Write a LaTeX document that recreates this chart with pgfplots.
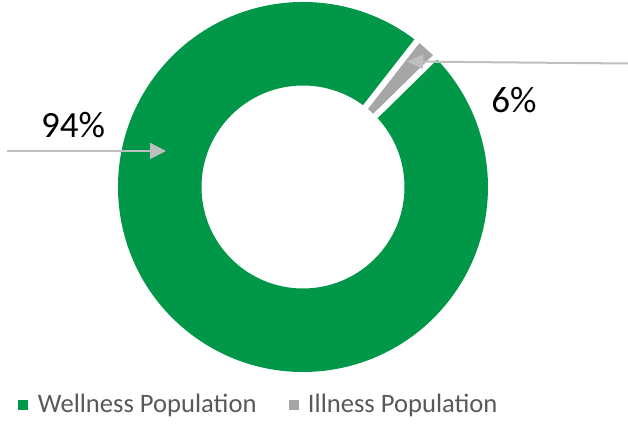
\documentclass[border=0pt]{standalone}
\usepackage{pgfplots}
\pgfplotsset{compat=1.18}
\usepackage{fontspec}
\setmainfont{Carlito}
\usetikzlibrary{arrows.meta}
\definecolor{wgreen}{RGB}{0,152,72}
\definecolor{igray}{RGB}{166,166,166}
\definecolor{agray}{RGB}{191,191,191}
\definecolor{ltext}{RGB}{89,89,89}

\begin{document}
\begin{tikzpicture}
% slice sizes as drawn (percent of the ring)
\def\wellness{97.9}
\def\illness{2.1}
\def\startangle{52}
\pgfmathsetmacro\wend{\startangle+3.6*\wellness}
\pgfmathsetmacro\iend{\wend+3.6*\illness}
\def\Ro{92.5pt}
\def\Ri{50.75pt}
\begin{axis}[
    name=ax,
    scale only axis,
    width=314pt, height=216pt,
    xmin=0, xmax=628, ymin=0, ymax=432,
    hide axis, clip=false,
    legend columns=2,
    legend style={draw=none, fill=none, at={(axis cs:18,27)}, anchor=west,
        inner sep=0pt, text=ltext,
        font=\fontsize{13.3pt}{16pt}\selectfont,
        /tikz/every even column/.append style={column sep=14pt}},
]
\addlegendimage{legend image code/.code={\fill[wgreen] (0pt,-2.25pt) rectangle (4.5pt,2.25pt); \path[draw=none, fill=none] (0pt,0pt) -- (7.5pt,0pt);}}
\addlegendentry{Wellness Population}
\addlegendimage{legend image code/.code={\fill[igray] (0pt,-2.25pt) rectangle (4.5pt,2.25pt); \path[draw=none, fill=none] (0pt,0pt) -- (7.5pt,0pt);}}
\addlegendentry{Illness Population}

% ring
\fill[wgreen] (axis cs:303,245) ++(\startangle:\Ro)
    arc[start angle=\startangle, end angle=\wend, radius=\Ro]
    -- ([shift={(\wend:\Ri)}]axis cs:303,245)
    arc[start angle=\wend, end angle=\startangle, radius=\Ri] -- cycle;
\fill[igray] (axis cs:303,245) ++(\wend:\Ro)
    arc[start angle=\wend, end angle=\iend, radius=\Ro]
    -- ([shift={(\iend:\Ri)}]axis cs:303,245)
    arc[start angle=\iend, end angle=\wend, radius=\Ri] -- cycle;
% white gaps between slices
\draw[white, line width=3pt] ([shift={(\startangle:48pt)}]axis cs:303,245) -- ([shift={(\startangle:95pt)}]axis cs:303,245);
\draw[white, line width=3pt] ([shift={(\wend:48pt)}]axis cs:303,245) -- ([shift={(\wend:95pt)}]axis cs:303,245);

% call-outs
\draw[agray, line width=1pt, -{Triangle[length=8pt, width=8pt]}] (axis cs:7,281) -- (axis cs:166,281);
\draw[agray, line width=1pt, -{Triangle[length=8pt, width=7pt]}] (axis cs:628,368.5) -- (axis cs:407,370.5);
\node[font=\fontsize{18.5pt}{20pt}\selectfont] at (axis cs:73,307) {94\%};
\node[font=\fontsize{18.5pt}{20pt}\selectfont] at (axis cs:514,332) {6\%};
\end{axis}
\pgfresetboundingbox
\path (ax.south west) rectangle (ax.north east);
\end{tikzpicture}
\end{document}
